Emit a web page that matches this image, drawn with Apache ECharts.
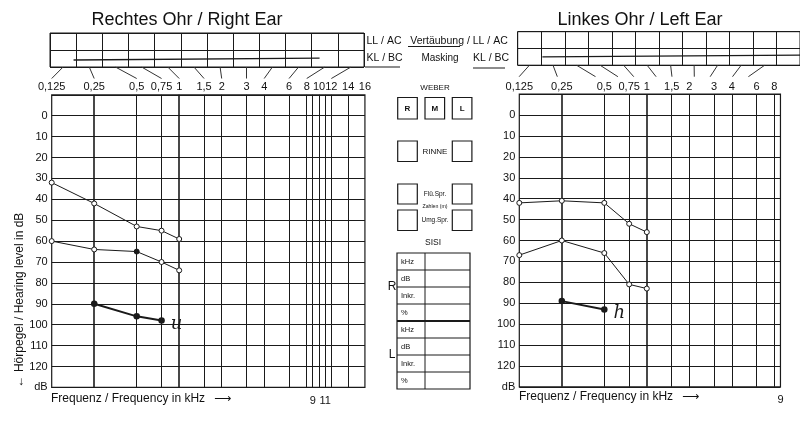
<!DOCTYPE html>
<html><head><meta charset="utf-8">
<script src="https://cdn.jsdelivr.net/npm/echarts@6/dist/echarts.min.js"></script>
<style>html,body{margin:0;padding:0;background:#fff}#c{width:800px;height:421px}</style>
</head><body><div id="c"></div>
<script>
// ---------- axis / tick definitions ----------
const topTickKHz = [0.125,0.25,0.5,0.75,1,1.5,2,3,4,6,8,10,12,14,16];
const topTickLabels = ['0,125','0,25','0,5','0,75','1','1,5','2','3','4','6','8','10','12','14','16'];
const gridKHz = [0.25,0.5,0.75,1,1.5,2,3,4,6,8,9,10,11,12,14];
const bottomTickKHz = [9, 11];
const bottomTickLabels = ['9', '11'];
const boxColumnKHz = [0.125,0.25,0.5,0.75,1,1.5,2,3,4,6,8,12];
const dbMin = -10, dbMax = 130, dbStep = 10;

// ---------- Rechtes Ohr / Right Ear ----------
const rightEarKHz = [0.125,0.25,0.5,0.75,1];
const rightEarUpper = [32,42,53,55,59];
const rightEarMiddle = [60,64,65,70,74];
const rightEarMiddleFilled = [false,false,true,false,false];
const rightEarLowKHz = [0.25,0.5,0.75];
const rightEarLow = [90,96,98];
const rightEarNote = 'u';
const rightEarMask = [[0.9,0.41],[10.3,0.52]];   // [box column, row level]

// ---------- Linkes Ohr / Left Ear ----------
const leftEarKHz = [0.125,0.25,0.5,0.75,1];
const leftEarUpper = [42,41,42,52,56];
const leftEarMiddle = [67,60,66,81,83];
const leftEarLowKHz = [0.25,0.5];
const leftEarLow = [89,93];
const leftEarNote = 'h';
const leftEarMask = [[1.05,0.5],[12,0.6]];

// ---------- frequency scale of the form (octaves up to 8 kHz, stretched HF part) ----------
const HF_KHZ = [8,12,16], HF_POS = [6,6.58,7.37];
function fpos(f){
  if (f <= 8) return Math.log2(f/0.125);
  for (let i=0;i<HF_KHZ.length-1;i++){
    if (f <= HF_KHZ[i+1]) return HF_POS[i] + (f-HF_KHZ[i])/(HF_KHZ[i+1]-HF_KHZ[i])*(HF_POS[i+1]-HF_POS[i]);
  }
  return HF_POS[HF_POS.length-1];
}

const FF = '"Liberation Sans", Arial, Helvetica, sans-serif';
const INK = '#1a1a1a';
const OCT = 42.5;          // px per octave
const DBPX = 2.09;         // px per dB
const COLS = 12, COLW = 26.17;

const panels = [
  {left:51.7, top:94.8, xmax:fpos(16), boxLeft:50, boxTop:33, boxH:34,
   kHz:rightEarKHz, upper:rightEarUpper, middle:rightEarMiddle, middleFilled:rightEarMiddleFilled,
   lowKHz:rightEarLowKHz, low:rightEarLow, note:rightEarNote, mask:rightEarMask},
  {left:519.3, top:94.2, xmax:fpos(9), boxLeft:517.7, boxTop:31.7, boxH:33.5,
   kHz:leftEarKHz, upper:leftEarUpper, middle:leftEarMiddle, middleFilled:[false,false,false,false,false],
   lowKHz:leftEarLowKHz, low:leftEarLow, note:leftEarNote, mask:leftEarMask}
];

const grid=[], xAxis=[], yAxis=[], series=[];
panels.forEach((p, k) => {
  const gMain = grid.length;
  grid.push({left:p.left, top:p.top, width:p.xmax*OCT, height:(dbMax-dbMin)*DBPX,
             show:true, borderColor:INK, borderWidth:1.2, backgroundColor:'transparent'});
  const gBox = grid.length;
  grid.push({left:p.boxLeft, top:p.boxTop, width:COLS*COLW, height:p.boxH,
             show:true, borderColor:INK, borderWidth:1});
  const gConn = grid.length;
  grid.push({left:p.boxLeft, top:p.boxTop+p.boxH, width:COLS*COLW, height:11.5, show:false});

  const eps = 1e-6;
  const topVals = topTickKHz.filter(f => fpos(f) <= p.xmax+eps).map(fpos);
  const xTop = xAxis.length;
  xAxis.push({gridIndex:gMain, type:'value', min:0, max:p.xmax, position:'top',
    axisLine:{show:false}, axisTick:{show:false}, splitLine:{show:false},
    axisLabel:{customValues:topVals, margin:2, fontSize:11, color:'#111', fontFamily:FF,
      formatter:(v)=>{const i=topTickKHz.findIndex(f=>Math.abs(fpos(f)-v)<1e-4); return i<0?'':topTickLabels[i];}}});
  const botVals = bottomTickKHz.filter(f => fpos(f) <= p.xmax+eps).map(fpos);
  xAxis.push({gridIndex:gMain, type:'value', min:0, max:p.xmax, position:'bottom',
    axisLine:{show:false}, axisTick:{show:false}, splitLine:{show:false},
    axisLabel:{customValues:botVals, margin:8, fontSize:11, color:'#111', fontFamily:FF,
      formatter:(v)=>{const i=bottomTickKHz.findIndex(f=>Math.abs(fpos(f)-v)<1e-4); return i<0?'':bottomTickLabels[i];}}});
  const xBox = xAxis.length;
  xAxis.push({gridIndex:gBox, type:'value', min:0, max:COLS, interval:1,
    axisLine:{show:false}, axisTick:{show:false}, axisLabel:{show:false},
    splitLine:{show:true, lineStyle:{color:INK, width:1}}});
  const xConn = xAxis.length;
  xAxis.push({gridIndex:gConn, type:'value', min:0, max:COLS, show:false});

  const yMain = yAxis.length;
  yAxis.push({gridIndex:gMain, type:'value', inverse:true, min:dbMin, max:dbMax, interval:dbStep,
    axisLine:{show:false}, axisTick:{show:false},
    splitLine:{show:true, lineStyle:{color:INK, width:1}},
    axisLabel:{margin:4, fontSize:11, color:'#111', fontFamily:FF,
      formatter:(v)=> v===dbMin ? '' : (v===dbMax ? 'dB' : String(v))}});
  const yBox = yAxis.length;
  yAxis.push({gridIndex:gBox, type:'value', min:0, max:2, interval:1,
    axisLine:{show:false}, axisTick:{show:false}, axisLabel:{show:false},
    splitLine:{show:true, lineStyle:{color:INK, width:1}}});
  const yConn = yAxis.length;
  yAxis.push({gridIndex:gConn, type:'value', min:0, max:1, show:false});

  // vertical grid lines at the form's frequencies
  const vLines = gridKHz.filter(f => fpos(f) < p.xmax-eps).map(f => ({
    xAxis: fpos(f), lineStyle:{color:INK, width: (f===1||f===0.25) ? 1.6 : 1, type:'solid'}}));

  series.push({type:'line', xAxisIndex:xTop, yAxisIndex:yMain, z:5,
    data:p.kHz.map((f,i)=>[fpos(f), p.upper[i]]),
    symbol:'circle', symbolSize:5, lineStyle:{color:INK, width:1},
    itemStyle:{color:'#fff', borderColor:INK, borderWidth:1},
    markLine:{silent:true, symbol:['none','none'], label:{show:false}, animation:false, z:2,
      lineStyle:{color:INK, width:1, type:'solid'}, data:vLines}});
  series.push({type:'line', xAxisIndex:xTop, yAxisIndex:yMain, z:5,
    data:p.kHz.map((f,i)=>({value:[fpos(f), p.middle[i]],
      itemStyle:{color:p.middleFilled[i]?INK:'#fff', borderColor:INK, borderWidth:1}})),
    symbol:'circle', symbolSize:5, lineStyle:{color:INK, width:1}});
  series.push({type:'line', xAxisIndex:xTop, yAxisIndex:yMain, z:5,
    data:p.lowKHz.map((f,i)=>{
      const last = i===p.lowKHz.length-1;
      return {value:[fpos(f), p.low[i]],
        label:last?{show:true, position:'right', distance:6, formatter:p.note, color:INK,
          fontSize:18, fontStyle:'italic', fontFamily:'"DejaVu Serif", serif', offset:[0,4]}:{show:false}};
    }),
    symbol:'circle', symbolSize:6.5, lineStyle:{color:INK, width:2}, itemStyle:{color:INK}});

  // masking line in the upper box
  series.push({type:'line', xAxisIndex:xBox, yAxisIndex:yBox, data:p.mask, symbol:'none',
    lineStyle:{color:INK, width:1.4}});
  // connectors from box columns to frequency labels
  const toBox = f => (p.left + fpos(f)*OCT - p.boxLeft)/COLW;
  series.push({type:'lines', coordinateSystem:'cartesian2d', xAxisIndex:xConn, yAxisIndex:yConn,
    data: boxColumnKHz.map((f,i)=>({coords:[[i+0.5,1],[toBox(f),0]]}))
                      .filter((d,i)=> fpos(boxColumnKHz[i]) <= p.xmax+eps),
    lineStyle:{color:'#333', width:1, opacity:1}, silent:true});
});

// ---------- printed form text & boxes ----------
const g = [];
function txt(x,y,s,size,opt={}){
  g.push({type:'text', x:x, y:y, rotation:opt.rot||0, silent:true,
    style:{text:s, fontSize:size, fontFamily:opt.ff||FF, fill:'#111', align:opt.align||'left',
      verticalAlign:'middle', fontWeight:opt.weight||'normal'}});
}
function rect(x,y,w,h,lw){ g.push({type:'rect', silent:true, shape:{x:x,y:y,width:w,height:h},
  style:{fill:'none', stroke:INK, lineWidth:lw||1}}); }
function line(x1,y1,x2,y2,lw){ g.push({type:'line', silent:true, shape:{x1:x1,y1:y1,x2:x2,y2:y2},
  style:{stroke:INK, lineWidth:lw||1}}); }

txt(187,20.5,'Rechtes Ohr / Right Ear',18,{align:'center'});
txt(640,20,'Linkes Ohr / Left Ear',18,{align:'center'});
txt(20,300,'\u2190 Hörpegel / Hearing level in dB',12,{align:'center', rot:Math.PI/2});
txt(51,399,'Frequenz / Frequency in kHz',12);
txt(214,399,'\u27F6',12,{ff:'"DejaVu Sans", sans-serif'});
txt(519,397,'Frequenz / Frequency in kHz',12);
txt(682,397,'\u27F6',12,{ff:'"DejaVu Sans", sans-serif'});

txt(366.5,41,'LL / AC',10.5);
txt(366.5,58.5,'KL / BC',10.5);
line(365,67,400,67,1);
txt(459,41,'Vertäubung / LL / AC',10.5,{align:'center'});
line(408,46.5,460,46.5,1);
txt(440,58.5,'Masking',10,{align:'center'});
txt(473,58.5,'KL / BC',10.5);
line(473,68,505,68,1);

txt(435,87.5,'WEBER',8,{align:'center'});
[['R',397.7],['M',425],['L',452.3]].forEach(([s,x])=>{ rect(x,97.5,19.6,21.5,1.2); txt(x+9.8,108.3,s,8,{align:'center', weight:'bold'}); });
rect(397.7,141,19.6,20.5,1.2); rect(452.3,141,19.6,20.5,1.2);
txt(435,151.3,'RINNE',8,{align:'center'});
rect(397.7,184,19.6,20,1.2); rect(452.3,184,19.6,20,1.2);
txt(435,194,'Flü.Spr.',6.5,{align:'center'});
txt(435,206.8,'Zahlen (m)',5.2,{align:'center'});
rect(397.7,210,19.6,20.5,1.2); rect(452.3,210,19.6,20.5,1.2);
txt(435,220.3,'Umg.Spr.',6.5,{align:'center'});
txt(433,243,'SISI',8.5,{align:'center'});

const sisiRows = ['kHz','dB','Inkr.','%','kHz','dB','Inkr.','%'];
const tTop = 253, rowH = 17, tL = 397, tR = 470, tMid = 425;
rect(tL,tTop,tR-tL,rowH*sisiRows.length,1.2);
line(tMid,tTop,tMid,tTop+rowH*sisiRows.length,1);
sisiRows.forEach((s,i)=>{
  if (i>0) line(tL,tTop+i*rowH,tR,tTop+i*rowH, i===4?2:1);
  txt(401,tTop+i*rowH+rowH/2,s,7.5);
});
txt(392,287,'R',12,{align:'center'});
txt(392,355,'L',12,{align:'center'});

const chart = echarts.init(document.getElementById('c'), null, {renderer:'canvas'});
chart.setOption({animation:false, backgroundColor:'#fff',
  textStyle:{fontFamily:FF}, grid:grid, xAxis:xAxis, yAxis:yAxis, series:series, graphic:g});
</script></body></html>
